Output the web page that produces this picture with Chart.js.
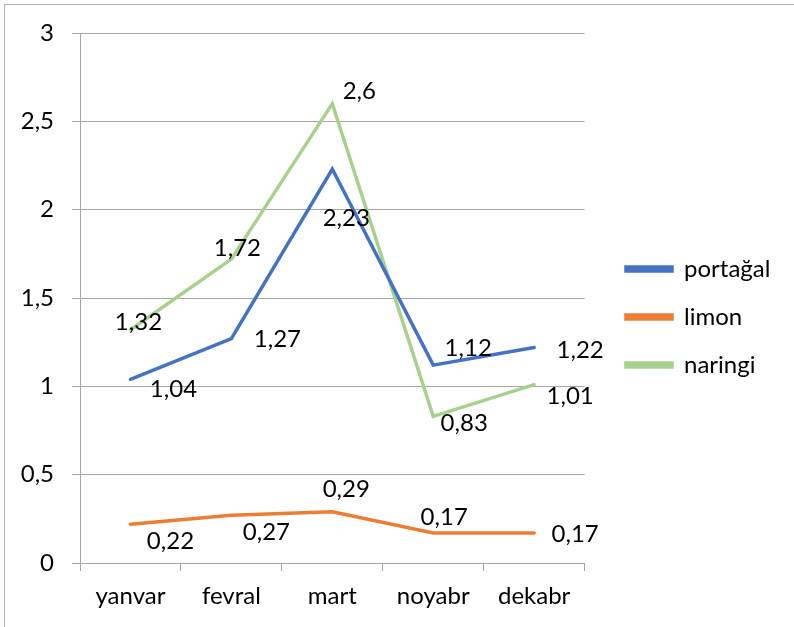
<!DOCTYPE html>
<html>
<head>
<meta charset="utf-8">
<script src="https://cdn.jsdelivr.net/npm/chart.js@4.4.1/dist/chart.umd.min.js"></script>
<style>
  html, body { margin: 0; padding: 0; background: #ffffff; overflow: hidden; }
  #wrap { position: relative; width: 794px; height: 627px; }
</style>
</head>
<body>
<div id="wrap"><canvas id="c" width="794" height="627"></canvas></div>
<script>
const categories = ['yanvar', 'fevral', 'mart', 'noyabr', 'dekabr'];
const seriesNames = ['portağal', 'limon', 'naringi'];
const portagal = [1.04, 1.27, 2.23, 1.12, 1.22];
const limon = [0.22, 0.27, 0.29, 0.17, 0.17];
const naringi = [1.32, 1.72, 2.6, 0.83, 1.01];
const yTicks = [0, 0.5, 1, 1.5, 2, 2.5, 3];

const colors = ['#4472C4', '#ED7D31', '#A9D18E'];
const FONT = 'Lato';
const FS = 24;

// label offsets (pixels) relative to each point, per series
const labelOffsets = [
  [[43, 10], [46, 1], [14, 49], [35, -17], [46, 3]],
  [[40, 17], [35, 17], [14, -23], [11, -16], [41, 1]],
  [[8, -8], [6, -11], [27, -12], [31, 7], [36, 12]]
];

const fmt = v => String(v).replace('.', ',');

const dataLabels = {
  id: 'dataLabels',
  afterDatasetsDraw(chart) {
    const ctx = chart.ctx;
    ctx.save();
    ctx.font = FS + 'px ' + FONT;
    ctx.fillStyle = '#000000';
    ctx.textAlign = 'center';
    ctx.textBaseline = 'middle';
    chart.data.datasets.forEach((ds, i) => {
      const meta = chart.getDatasetMeta(i);
      meta.data.forEach((pt, j) => {
        const o = labelOffsets[i][j];
        ctx.fillText(fmt(ds.data[j]), pt.x + o[0], pt.y + o[1]);
      });
    });
    ctx.restore();
  }
};

const frame = {
  id: 'frame',
  beforeDraw(chart) {
    const ctx = chart.ctx;
    ctx.save();
    ctx.strokeStyle = '#b4b4b4';
    ctx.lineWidth = 1;
    ctx.strokeRect(4.5, 4.5, 900, 900);
    ctx.restore();
  }
};

const legendShift = {
  id: 'legendShift',
  afterLayout(chart) {
    const lg = chart.legend;
    if (!lg) return;
    const dx = 602 - lg.left;
    lg.left += dx; lg.right += dx;
    lg.top -= 13; lg.bottom -= 13;
  }
};

new Chart(document.getElementById('c'), {
  type: 'line',
  data: {
    labels: categories,
    datasets: [portagal, limon, naringi].map((d, i) => ({
      label: seriesNames[i],
      data: d,
      borderColor: colors[i],
      backgroundColor: colors[i],
      borderWidth: 3.5,
      pointRadius: 0,
      tension: 0,
      fill: false,
      borderCapStyle: 'round',
      borderJoinStyle: 'miter'
    }))
  },
  options: {
    responsive: false,
    animation: false,
    devicePixelRatio: 1,
    layout: { padding: { top: 33, left: 0, right: 31, bottom: 0 } },
    plugins: {
      legend: {
        position: 'right',
        align: 'center',
        labels: {
          boxWidth: 46,
          boxHeight: 4,
          padding: 24,
          color: '#000000',
          font: { family: FONT, size: FS }
        }
      },
      tooltip: { enabled: false }
    },
    scales: {
      x: {
        offset: true,
        afterFit: s => { s.height = 64; },
        grid: { display: true, drawOnChartArea: false, drawTicks: true, tickLength: 8, offset: true, color: '#a6a6a6' },
        border: { display: true, color: '#a6a6a6', width: 1 },
        ticks: { color: '#000000', font: { family: FONT, size: FS }, padding: 11, maxRotation: 0 }
      },
      y: {
        min: 0,
        max: 3,
        afterFit: s => { s.width = 80; },
        afterBuildTicks: s => { s.ticks = yTicks.map(v => ({ value: v })); },
        grid: { color: '#a6a6a6', tickLength: 8, drawTicks: true },
        border: { display: true, color: '#a6a6a6', width: 1 },
        ticks: { color: '#000000', font: { family: FONT, size: FS }, padding: 18, callback: v => fmt(v) }
      }
    }
  },
  plugins: [frame, dataLabels, legendShift]
});
</script>
</body>
</html>
